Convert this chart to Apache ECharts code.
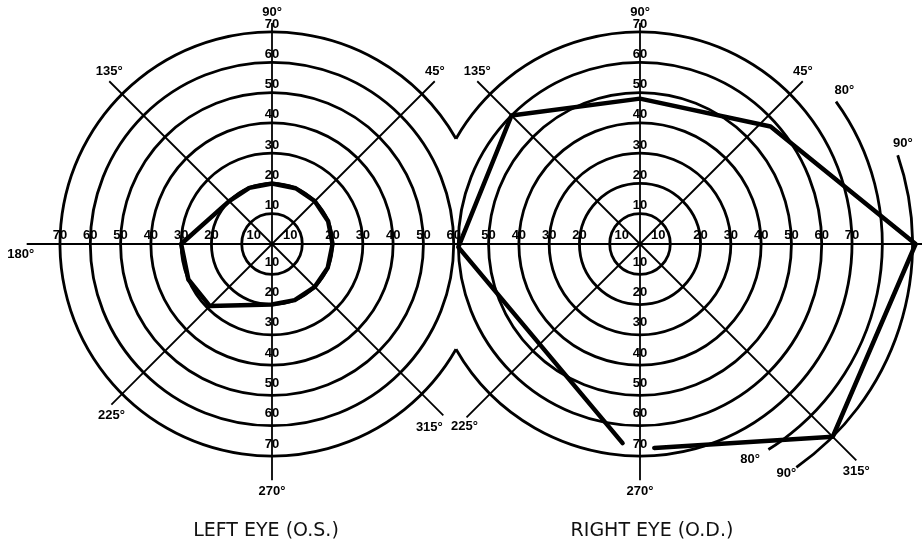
<!DOCTYPE html>
<html>
<head>
<meta charset="utf-8">
<title>Visual fields</title>
<script src="https://cdn.jsdelivr.net/npm/echarts@6/dist/echarts.min.js"></script>
<style>
    html, body { margin: 0; padding: 0; background: #fff; }
    #chart { width: 922px; height: 544px; }
</style>
</head>
<body>
<div id="chart"></div>
<script>
// isopter rings, degrees from fixation
const ringValues = [10, 20, 30, 40, 50, 60, 70];
// extra temporal rings on the right eye chart
const extraRings = [80, 90];
// meridians
const meridians = [0, 45, 90, 135, 180, 225, 270, 315];
const leftMeridianLabels = [45, 90, 135, 180, 225, 270, 315];
const rightMeridianLabels = [45, 90, 135, 225, 270, 315];

// plotted fields: [eccentricity, meridian]
const leftField = [[30, 180], [30, 203], [29, 225], [20, 270], [20, 292], [20, 315], [20, 337], [20, 0],
    [20, 22], [20, 45], [20, 67], [20, 90], [20, 112], [20, 135], [30, 180]];
const rightField = [[66, 265], [60, 181], [60, 135], [48, 90], [58, 42], [91, 0], [90, 315], [67.5, 274]];

// ---- layout ----
const CY = 244, CX_L = 272, CX_R = 640, R70 = 212;
// radial scale runs to 100 so the 80/90 points are not clipped; rings are drawn by hand
const R_MAX = 100;
const INK = '#000';
const NUM_FONT = 'bold 13px "Liberation Sans", sans-serif';

// how far each meridian line runs (in degrees of the radial scale)
const leftSpokeLen = { 0: 61, 45: 76, 90: 73, 135: 76, 180: 81, 225: 75, 270: 78, 315: 80 };
const rightSpokeLen = { 0: 94, 45: 76, 90: 73, 135: 76, 180: 61, 225: 81, 270: 78, 315: 101 };
// pixel nudges for meridian labels that would otherwise collide
const leftLabelShift = { 315: [-14, 1] };
const rightLabelShift = { 225: [-2, -2] };
// which side each ring number is printed on
const leftRingLabelDirs = [{ angle: 0, max: 60 }, { angle: 90, max: 70 }, { angle: 180, max: 70 }, { angle: 270, max: 70 }];
const rightRingLabelDirs = [{ angle: 0, max: 70 }, { angle: 90, max: 70 }, { angle: 180, max: 50 }, { angle: 270, max: 70 }];
// partial arcs for 80 / 90 on the right chart
const extraArcLayout = {
    80: { from: -58, to: 36, labels: [[84.5, 37], [80, -63]] },
    90: { from: -55, to: 19, labels: [[93, 21], [90, -57.5]] }
};

function text(x, y, str) {
    return {
        type: 'text', x: x, y: y,
        style: { text: str, fill: INK, font: NUM_FONT, align: 'center', verticalAlign: 'middle' }
    };
}

function ringItem(isLeft) {
    return function (params, api) {
        let v = api.value(0);
        let c = api.coord([0, 0]);
        let r = api.coord([v, 0])[0] - c[0];
        let style = { stroke: INK, lineWidth: 2.8, fill: 'none' };
        if (v < 70) {
            return { type: 'circle', shape: { cx: c[0], cy: c[1], r: r }, style: style };
        }
        // outer ring stops where it meets the other eye's outer ring
        let cut = Math.acos((CX_R - CX_L) / 2 / r);
        let start = isLeft ? cut : Math.PI + cut;
        return {
            type: 'arc',
            shape: { cx: c[0], cy: c[1], r: r, startAngle: start, endAngle: start + 2 * Math.PI - 2 * cut, clockwise: true },
            style: style
        };
    };
}

function extraArcItem(params, api) {
    let v = api.value(0);
    let lay = extraArcLayout[v];
    let c = api.coord([0, 0]);
    let r = api.coord([v, 0])[0] - c[0];
    let children = [{
        type: 'arc',
        shape: { cx: c[0], cy: c[1], r: r, startAngle: -lay.to * Math.PI / 180, endAngle: -lay.from * Math.PI / 180, clockwise: true },
        style: { stroke: INK, lineWidth: 2.8, fill: 'none' }
    }];
    lay.labels.forEach(function (pos) {
        let q = api.coord(pos);
        children.push(text(q[0], q[1], v + '°'));
    });
    return { type: 'group', children: children };
}

function spokeItem(lens) {
    return function (params, api) {
        let a = api.value(1);
        let c = api.coord([0, a]);
        let e = api.coord([lens[a], a]);
        return {
            type: 'line',
            shape: { x1: c[0], y1: c[1], x2: e[0], y2: e[1] },
            style: { stroke: INK, lineWidth: 1.8 }
        };
    };
}

function meridianLabelItem(lens, shifts) {
    return function (params, api) {
        let a = api.value(1);
        let e = api.coord([lens[a], a]);
        let dx = 0, dy;
        if (a === 180) { dx = -6; dy = 10; }
        else if (a < 180) dy = -10;
        else dy = 11;
        if (shifts[a]) { dx += shifts[a][0]; dy += shifts[a][1]; }
        return text(e[0] + dx, e[1] + dy, a + '°');
    };
}

function ringLabelItem(dirs) {
    return function (params, api) {
        let v = api.value(0);
        let children = [];
        dirs.forEach(function (d) {
            if (v > d.max) return;
            let p = api.coord([v, d.angle]);
            let x = p[0], y = p[1];
            if (d.angle === 0) { y -= 9; if (v === 10) x -= 12; }
            else if (d.angle === 180) { y -= 9; if (v === 10) x += 12; }
            else if (d.angle === 90) y -= 8;
            else y -= 12;
            children.push(text(x, y, String(v)));
        });
        return { type: 'group', children: children };
    };
}

function custom(polarIndex, data, renderItem, z) {
    return {
        type: 'custom', coordinateSystem: 'polar', polarIndex: polarIndex,
        data: data, renderItem: renderItem, silent: true, z: z || 2
    };
}

function fieldLine(polarIndex, data) {
    return {
        type: 'line', coordinateSystem: 'polar', polarIndex: polarIndex, data: data,
        symbol: 'none', clip: false, z: 3, silent: true,
        lineStyle: { color: INK, width: 4.5, join: 'round', cap: 'round' }
    };
}

function axesFor(polarIndex) {
    return {
        angle: {
            polarIndex: polarIndex, type: 'value', min: 0, max: 360, interval: 45,
            startAngle: 0, clockwise: false,
            axisLine: { show: false }, axisTick: { show: false }, axisLabel: { show: false }, splitLine: { show: false }
        },
        radius: {
            polarIndex: polarIndex, type: 'value', min: 0, max: R_MAX, interval: 10,
            axisLine: { show: false }, axisTick: { show: false }, axisLabel: { show: false }, splitLine: { show: false }
        }
    };
}

let axL = axesFor(0), axR = axesFor(1);
let titleStyle = { fontFamily: '"DejaVu Sans", sans-serif', fontSize: 19, fontWeight: 'normal', color: '#111' };
let polarRadius = R70 * R_MAX / 70;

let options = {
    animation: false,
    backgroundColor: '#fff',
    title: [
        { text: 'LEFT EYE (O.S.)', left: CX_L - 6, top: 522, textAlign: 'center', padding: 0, textStyle: titleStyle },
        { text: 'RIGHT EYE (O.D.)', left: CX_R + 12, top: 522, textAlign: 'center', padding: 0, textStyle: titleStyle }
    ],
    polar: [
        { center: [CX_L, CY], radius: polarRadius },
        { center: [CX_R, CY], radius: polarRadius }
    ],
    angleAxis: [axL.angle, axR.angle],
    radiusAxis: [axL.radius, axR.radius],
    series: [
        custom(0, ringValues.map(v => [v, 0]), ringItem(true)),
        custom(1, ringValues.map(v => [v, 0]), ringItem(false)),
        custom(1, extraRings.map(v => [v, 0]), extraArcItem),
        custom(0, meridians.map(a => [0, a]), spokeItem(leftSpokeLen)),
        custom(1, meridians.map(a => [0, a]), spokeItem(rightSpokeLen)),
        custom(0, leftMeridianLabels.map(a => [0, a]), meridianLabelItem(leftSpokeLen, leftLabelShift)),
        custom(1, rightMeridianLabels.map(a => [0, a]), meridianLabelItem(rightSpokeLen, rightLabelShift)),
        custom(0, ringValues.map(v => [v, 0]), ringLabelItem(leftRingLabelDirs), 4),
        custom(1, ringValues.map(v => [v, 0]), ringLabelItem(rightRingLabelDirs), 4),
        fieldLine(0, leftField),
        fieldLine(1, rightField)
    ]
};

let chart = echarts.init(document.getElementById('chart'));
chart.setOption(options, true);
</script>
</body>
</html>
